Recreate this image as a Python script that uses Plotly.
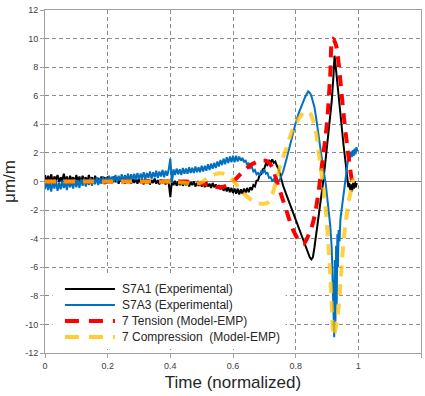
import plotly.graph_objects as go

# ---------------- data ----------------
SERIES_NAMES = ["S7A1 (Experimental)", "S7A3 (Experimental)",
                "7 Tension (Model-EMP)", "7 Compression  (Model-EMP)"]

X_TICKS = [0, 0.2, 0.4, 0.6, 0.8, 1.0, 1.2]
X_TICK_TEXT = ["0", "0.2", "0.4", "0.6", "0.8", "1", "1.2"]
Y_TICKS = [12, 10, 8, 6, 4, 2, 0, -2, -4, -6, -8, -10, -12]
Y_TICK_TEXT = ["12", "10", "8", "6", "4", "2", "0", "-2", "-4", "-6", "-8", "-10", "-12"]

# sample time base for the dense (noisy) part of the experimental records
NOISE_T0 = 0.0
NOISE_DT = 0.005

s7a1_noisy = [
    0.45, -0.05, 0.40, 0.05, 0.50, -0.10, 0.35, 0.10, 0.45, -0.05,
    0.30, 0.00, 0.55, 0.05, 0.35, -0.15, 0.40, 0.10, 0.30, -0.05,
    0.45, 0.00, 0.35, -0.10, 0.40, 0.05, 0.30, -0.05, 0.45, 0.00,
    0.30, -0.10, 0.40, 0.05, 0.25, -0.10, 0.35, 0.00, 0.30, -0.15,
    0.35, 0.00, 0.25, -0.10, 0.35, -0.05, 0.30, -0.15, 0.25, 0.00,
    0.30, -0.15, 0.20, -0.05, 0.30, -0.15, 0.20, -0.10, 0.25, -0.15,
    0.20, -0.10, 0.15, -0.20, 0.20, -0.10, 0.15, -0.20, 0.10, -0.10,
    0.20, -0.15, 0.10, -0.20, 0.15, -0.10, 0.10, -0.20, 0.10, -0.15,
    -1.10, 0.05, -0.25, 0.05, -0.30, 0.00, -0.25, 0.05, -0.30, -0.05,
    -0.25, 0.00, -0.35, -0.05, -0.25, 0.00, -0.35, -0.10, -0.30, 0.00,
    -0.35, -0.10, -0.40, -0.05, -0.35, -0.15, -0.45, -0.10, -0.40, -0.20,
    -0.50, -0.25, -0.55, -0.30, -0.65, -0.35, -0.70, -0.40, -0.75, -0.45,
    -0.80,
]
s7a1_tail_x = [0.605, 0.61, 0.615, 0.62, 0.625, 0.63, 0.635, 0.64, 0.645, 0.65,
               0.655, 0.66, 0.665, 0.67, 0.675, 0.68, 0.685, 0.69, 0.695, 0.70,
               0.705, 0.71, 0.715, 0.72, 0.725, 0.73, 0.735, 0.74, 0.745, 0.75,
               0.755, 0.76, 0.77, 0.78, 0.79, 0.80, 0.81, 0.82, 0.83, 0.84,
               0.845, 0.85, 0.855, 0.86, 0.87, 0.88, 0.888, 0.895, 0.90, 0.905, 0.91,
               0.915, 0.92, 0.924, 0.928, 0.933, 0.94, 0.947, 0.953, 0.96, 0.965,
               0.968, 0.971, 0.974, 0.977, 0.98, 0.983, 0.986, 0.989, 0.992, 0.995]
s7a1_tail_y = [-0.50, -0.85, -0.50, -0.90, -0.55, -0.85, -0.50, -0.80, -0.45, -0.75,
               -0.40, -0.60, -0.25, -0.35, 0.05, 0.10, 0.45, 0.50, 0.85, 0.90,
               1.25, 1.15, 1.50, 1.30, 1.55, 1.30, 1.40, 1.10, 0.90, 0.50,
               0.10, -0.30, -0.90, -1.50, -2.10, -2.70, -3.30, -3.90, -4.50, -5.00,
               -5.30, -5.45, -5.30, -4.60, -3.00, -1.50, 0.00, 1.40, 2.50, 3.40, 4.40,
               5.60, 7.20, 8.80, 8.00, 6.80, 5.30, 3.80, 2.50, 1.20, 0.20,
               -0.40, -0.10, -0.60, -0.20, -0.70, -0.10, -0.50, 0.00, -0.40, -0.10]

s7a3_noisy = [
    -0.55, 0.05, -0.60, -0.05, -0.70, 0.00, -0.50, 0.10, -0.65, -0.10,
    -0.55, 0.05, -0.45, -0.05, -0.60, 0.10, -0.40, 0.00, -0.50, 0.15,
    -0.40, 0.10, -0.45, 0.15, -0.30, 0.20, -0.35, 0.10, -0.25, 0.25,
    -0.30, 0.20, -0.20, 0.30, -0.25, 0.25, -0.15, 0.35, -0.20, 0.30,
    -0.10, 0.40, -0.10, 0.35, 0.00, 0.45, -0.05, 0.40, 0.05, 0.50,
    0.00, 0.45, 0.10, 0.55, 0.05, 0.50, 0.15, 0.55, 0.10, 0.60,
    0.15, 0.55, 0.20, 0.65, 0.15, 0.60, 0.25, 0.70, 0.20, 0.65,
    0.30, 0.75, 0.25, 0.70, 0.35, 0.80, 0.30, 0.75, 0.40, 0.85,
    1.60, -0.10, 0.85, 0.45, 0.90, 0.50, 0.85, 0.45, 0.95, 0.55,
    0.90, 0.55, 1.00, 0.60, 0.95, 0.60, 1.05, 0.65, 1.00, 0.65,
    1.10, 0.70, 1.10, 0.75, 1.20, 0.80, 1.25, 0.90, 1.30, 0.95,
    1.40, 1.05, 1.50, 1.15, 1.60, 1.20, 1.70, 1.30, 1.75, 1.35,
    1.80, 1.35, 1.80, 1.40, 1.75,
]
s7a3_tail_x = [0.625, 0.63, 0.635, 0.64, 0.645, 0.65, 0.655, 0.66, 0.665, 0.67,
               0.675, 0.68, 0.685, 0.69, 0.695, 0.70, 0.705, 0.71, 0.715, 0.72,
               0.725, 0.73, 0.735, 0.74, 0.745, 0.75, 0.76, 0.77, 0.78, 0.79,
               0.80, 0.81, 0.82, 0.83, 0.835, 0.84, 0.845, 0.85, 0.855, 0.86,
               0.865, 0.87, 0.875, 0.88, 0.885, 0.89, 0.895, 0.90, 0.905, 0.91,
               0.915, 0.918, 0.921, 0.923, 0.925, 0.927, 0.929, 0.931, 0.933, 0.935,
               0.937, 0.94, 0.943, 0.947, 0.95, 0.955, 0.96, 0.965, 0.97, 0.973,
               0.976, 0.979, 0.982, 0.985, 0.988, 0.991, 0.994, 0.997]
s7a3_tail_y = [1.45, 1.65, 1.35, 1.50, 1.15, 1.30, 0.95, 1.05, 0.70, 0.80,
               0.50, 0.60, 0.45, 0.70, 0.60, 0.85, 0.55, 0.60, 0.25, 0.30,
               0.05, 0.15, -0.05, 0.10, 0.00, 0.15, 0.70, 1.50, 2.40, 3.30,
               4.10, 4.80, 5.40, 5.90, 6.10, 6.30, 6.20, 6.00, 5.60, 5.20,
               4.50, 3.70, 2.90, 2.00, 1.30, 0.60, 0.00, -0.90, -1.90, -3.00,
               -4.60, -6.80, -9.00, -10.90, -5.50, -9.80, -4.50, -8.60, -3.70, -6.00,
               -3.40, -4.20, -2.60, -2.00, -1.40, -0.60, 0.30, 1.20, 1.80, 1.50,
               2.10, 1.70, 2.20, 1.80, 2.30, 1.90, 2.40, 2.10]

tension_x = [0.0, 0.1, 0.2, 0.3, 0.4, 0.45, 0.48, 0.50, 0.53, 0.56,
             0.58, 0.60, 0.63, 0.66, 0.69, 0.71, 0.725, 0.74, 0.755, 0.77,
             0.79, 0.81, 0.825, 0.84, 0.855, 0.87, 0.88, 0.89, 0.90, 0.91,
             0.918, 0.928, 0.937, 0.945, 0.955, 0.965, 0.975, 0.98]
tension_y = [0.0, 0.0, 0.0, 0.0, 0.0, 0.0, -0.05, -0.15, -0.30, -0.40,
             -0.30, 0.00, 0.65, 1.20, 1.45, 1.40, 1.00, 0.00, -1.00, -2.00,
             -3.30, -4.10, -4.35, -3.80, -2.90, -1.20, 0.50, 2.20, 4.10, 7.30,
             10.00, 9.60, 8.30, 6.50, 4.30, 2.40, 0.70, 0.00]

compression_x = [0.0, 0.1, 0.2, 0.3, 0.4, 0.45, 0.48, 0.50, 0.52, 0.55,
                 0.57, 0.59, 0.61, 0.63, 0.65, 0.67, 0.69, 0.71, 0.725, 0.74,
                 0.755, 0.77, 0.79, 0.81, 0.83, 0.845, 0.855, 0.865, 0.875, 0.885,
                 0.895, 0.905, 0.912, 0.917, 0.921, 0.93, 0.937, 0.945, 0.952, 0.96,
                 0.97, 0.98, 0.985]
compression_y = [0.0, 0.0, 0.0, 0.0, -0.02, -0.10, -0.15, -0.05, 0.25, 0.55,
                 0.55, 0.30, -0.20, -0.75, -1.15, -1.45, -1.55, -1.50, -0.90, 0.20,
                 1.40, 2.30, 3.60, 4.40, 4.90, 4.80, 4.30, 3.40, 1.80, 0.20,
                 -1.80, -4.60, -7.30, -9.50, -10.80, -10.00, -8.80, -6.50, -4.40, -2.80,
                 -1.30, -0.30, 0.20]

# ---------------- styles ----------------
COL_BLACK = "#000000"
COL_BLUE = "#0070C0"
COL_RED = "#FF0000"
COL_YEL = "rgba(255,192,0,0.75)"
GRID = "#8c8c8c"
FRAME = "#a0a0a0"
FONT = "Liberation Sans, Arial, sans-serif"

s7a1_x = [round(NOISE_T0 + i * NOISE_DT, 4) for i in range(len(s7a1_noisy))] + s7a1_tail_x
s7a1_y = s7a1_noisy + s7a1_tail_y
s7a3_x = [round(NOISE_T0 + i * NOISE_DT, 4) for i in range(len(s7a3_noisy))] + s7a3_tail_x
s7a3_y = s7a3_noisy + s7a3_tail_y

fig = go.Figure()
fig.add_trace(go.Scatter(x=s7a1_x, y=s7a1_y, mode="lines", name=SERIES_NAMES[0],
                         line=dict(color=COL_BLACK, width=2)))
fig.add_trace(go.Scatter(x=s7a3_x, y=s7a3_y, mode="lines", name=SERIES_NAMES[1],
                         line=dict(color=COL_BLUE, width=2)))
fig.add_trace(go.Scatter(x=tension_x, y=tension_y, mode="lines", name=SERIES_NAMES[2],
                         line=dict(color=COL_RED, width=4, dash="11px,8px", shape="spline")))
fig.add_trace(go.Scatter(x=compression_x, y=compression_y, mode="lines", name=SERIES_NAMES[3],
                         line=dict(color=COL_YEL, width=4, dash="11px,8px", shape="spline")))

# ---------------- custom legend (longer sample lines, as in the original) ----------------
leg_rows = [0.1866, 0.140, 0.0933, 0.0466]
leg_styles = [(COL_BLACK, 2, "solid"), (COL_BLUE, 2, "solid"),
              (COL_RED, 4, "14px,10px"), ("rgba(255,192,0,0.8)", 4, "14px,10px")]
shapes = [dict(type="rect", xref="paper", yref="paper", x0=0.02, x1=0.64, y0=0.012, y1=0.225,
               fillcolor="white", line=dict(width=0), layer="above")]
annotations = []
for yy, (c, w, d), name in zip(leg_rows, leg_styles, SERIES_NAMES):
    shapes.append(dict(type="line", xref="paper", yref="paper", x0=0.053, x1=0.186, y0=yy, y1=yy,
                       line=dict(color=c, width=w, dash=d), layer="above"))
    annotations.append(dict(xref="paper", yref="paper", x=0.2, y=yy, xanchor="left", yanchor="middle",
                            text=name, showarrow=False,
                            font=dict(family=FONT, size=12, color="#262626")))

fig.update_layout(
    width=425, height=396,
    margin=dict(l=45, r=4, t=10, b=43),
    paper_bgcolor="white", plot_bgcolor="white",
    showlegend=False,
    font=dict(family=FONT, color="#404040"),
    shapes=shapes, annotations=annotations,
)
fig.update_xaxes(range=[0, 1.2], tickvals=X_TICKS, ticktext=X_TICK_TEXT,
                 showgrid=True, gridcolor=GRID, griddash="4px,3px", gridwidth=1,
                 showline=True, linecolor=FRAME, linewidth=1, mirror=True,
                 ticks="outside", ticklen=4, tickcolor=FRAME,
                 tickfont=dict(size=9, color="#404040"), zeroline=False, automargin=False,
                 title=dict(text="Time (normalized)", font=dict(size=17, color="#262626"), standoff=6))
fig.update_yaxes(range=[-12, 12], tickvals=Y_TICKS, ticktext=Y_TICK_TEXT,
                 showgrid=True, gridcolor=GRID, griddash="4px,3px", gridwidth=1,
                 showline=True, linecolor=FRAME, linewidth=1, mirror=True,
                 ticks="outside", ticklen=4, tickcolor=FRAME,
                 tickfont=dict(size=9, color="#404040"), automargin=False,
                 zeroline=True, zerolinecolor="#808080", zerolinewidth=1,
                 title=dict(text="μm/m", font=dict(size=17, color="#262626"), standoff=6))

fig.write_html("out.html", config={"displayModeBar": False},
               post_script="document.body.style.margin='0px';")
